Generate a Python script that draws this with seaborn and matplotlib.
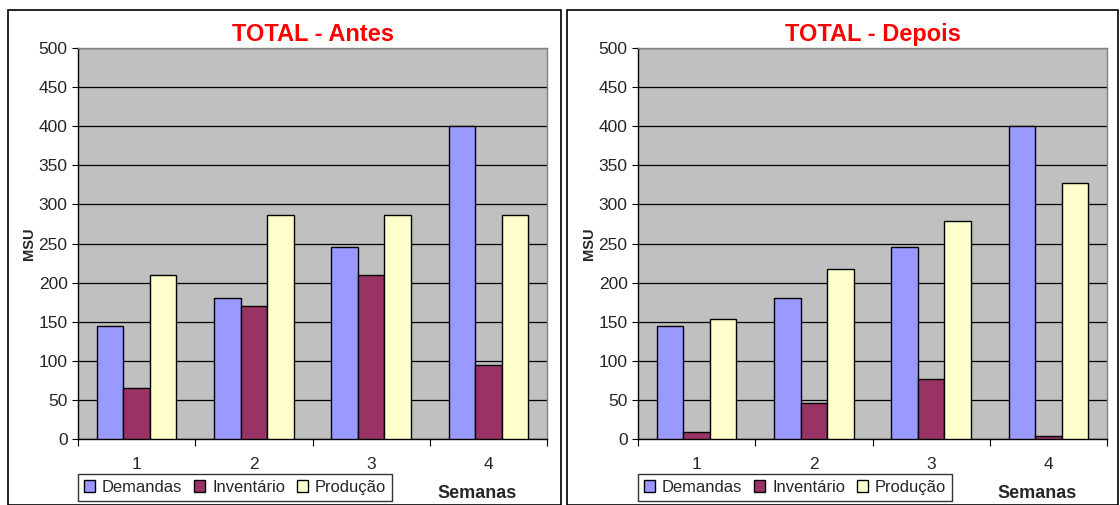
import numpy as np
import pandas as pd
import seaborn as sns
import matplotlib.pyplot as plt
from matplotlib.patches import Patch, Rectangle
from matplotlib.ticker import MultipleLocator, FixedLocator

semanas = ["1", "2", "3", "4"]
series = ["Demandas", "Inventário", "Produção"]
cores = ["#9999FF", "#993366", "#FFFFCC"]

antes_demandas = [145, 180, 246, 400]
antes_inventario = [65, 170, 210, 95]
antes_producao = [210, 286, 286, 286]

depois_demandas = [145, 180, 246, 400]
depois_inventario = [9, 46, 77, 4]
depois_producao = [154, 217, 279, 327]

sns.set_style("white")
plt.rcParams['font.family'] = ['Liberation Sans', 'DejaVu Sans']


def monta(dem, inv, prod):
    linhas = []
    for nome, vals in zip(series, [dem, inv, prod]):
        for s, v in zip(semanas, vals):
            linhas.append({"Semana": s, "Serie": nome, "MSU": v})
    return pd.DataFrame(linhas)


fig = plt.figure(figsize=(11.2, 5.05), dpi=100)

# bordas dos dois quadros (estilo Excel)
fig.patches.append(Rectangle((8 / 1120, 0), 553 / 1120, 495 / 505, transform=fig.transFigure,
                             fill=False, edgecolor="black", linewidth=1.2))
fig.patches.append(Rectangle((567 / 1120, 0), 551 / 1120, 495 / 505, transform=fig.transFigure,
                             fill=False, edgecolor="black", linewidth=1.2))

paineis = [
    ("TOTAL - Antes", 78, monta(antes_demandas, antes_inventario, antes_producao)),
    ("TOTAL - Depois", 638, monta(depois_demandas, depois_inventario, depois_producao)),
]

for titulo, x0, df in paineis:
    ax = fig.add_axes([x0 / 1120, 66 / 505, 469 / 1120, 391 / 505])
    sns.barplot(data=df, x="Semana", y="MSU", hue="Serie", palette=cores, width=0.68,
                saturation=1, edgecolor="black", linewidth=1.0, legend=False, ax=ax, zorder=3)
    ax.set_facecolor("#C0C0C0")
    ax.set_ylim(0, 500)
    ax.set_xlim(-0.5, 3.5)
    ax.yaxis.set_major_locator(MultipleLocator(50))
    ax.grid(axis="y", color="black", linewidth=0.9)
    ax.set_axisbelow(True)
    for s in ax.spines.values():
        s.set_color("#808080")
        s.set_linewidth(1.0)
    ax.spines["left"].set_color("black")
    ax.spines["bottom"].set_color("black")

    # ticks entre categorias, rótulos no centro
    ax.xaxis.set_major_locator(FixedLocator([-0.5, 0.5, 1.5, 2.5, 3.5]))
    ax.xaxis.set_minor_locator(FixedLocator([0, 1, 2, 3]))
    ax.set_xticklabels([])
    ax.set_xticklabels(semanas, minor=True)
    ax.tick_params(axis="x", which="major", direction="out", length=5, color="black", bottom=True)
    ax.tick_params(axis="x", which="minor", length=0, labelsize=12.5, pad=13, bottom=True)
    ax.tick_params(axis="y", direction="out", length=4, color="black", labelsize=12.5, left=True)

    ax.set_xlabel("")
    ax.set_ylabel("MSU", fontsize=10.5, fontweight="bold", labelpad=2)
    ax.set_title(titulo, color="red", fontsize=17, fontweight="bold", pad=5)

    handles = [Patch(facecolor=c, edgecolor="black", label=n) for c, n in zip(cores, series)]
    ax.legend(handles=handles, loc="upper left", bbox_to_anchor=(0, -0.09), ncol=3,
              frameon=True, fancybox=False, edgecolor="black", fontsize=11.9,
              handlelength=0.7, handleheight=0.7, handletextpad=0.4, columnspacing=0.7,
              borderpad=0.35, borderaxespad=0)
    ax.text(0.85, -0.14, "Semanas", transform=ax.transAxes, fontsize=13, fontweight="bold",
            ha="center", va="center")

fig.savefig("out.png", dpi=100)
